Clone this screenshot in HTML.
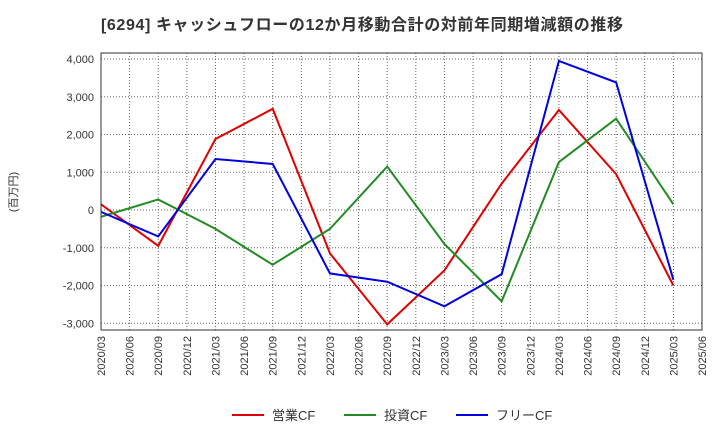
<!DOCTYPE html>
<html><head><meta charset="utf-8"><style>
body{margin:0;background:#fff;font-family:"Liberation Sans","Noto Sans CJK JP",sans-serif;}
</style></head><body>
<svg id="c" width="720" height="440" xmlns="http://www.w3.org/2000/svg">
<text x="101" y="30" font-size="16" font-weight="bold" fill="#333" textLength="522" lengthAdjust="spacing">[6294]  キャッシュフローの12か月移動合計の対前年同期増減額の推移</text>
<text transform="translate(17,192) rotate(-90)" font-size="11" fill="#333" text-anchor="middle">(百万円)</text>
<g id="grid"></g><g id="lines"></g>
<rect x="101" y="53" width="601" height="277" fill="none" stroke="#333" stroke-width="1"/>
<g>
<line x1="232" y1="415" x2="264" y2="415" stroke="#e00000" stroke-width="2"/><text x="272" y="420" font-size="13" fill="#333">営業CF</text>
<line x1="344" y1="415" x2="376" y2="415" stroke="#228b22" stroke-width="2"/><text x="384" y="420" font-size="13" fill="#333">投資CF</text>
<line x1="456" y1="415" x2="488" y2="415" stroke="#0000e0" stroke-width="2"/><text x="496" y="420" font-size="13" fill="#333">フリーCF</text>
</g>
</svg>
<script>
const xLabels=["2020/03","2020/06","2020/09","2020/12","2021/03","2021/06","2021/09","2021/12","2022/03","2022/06","2022/09","2022/12","2023/03","2023/06","2023/09","2023/12","2024/03","2024/06","2024/09","2024/12","2025/03","2025/06"];
const yTicks=[4000,3000,2000,1000,0,-1000,-2000,-3000];
const pointIdx=[0,2,4,6,8,10,12,14,16,18,20];
const operatingCF=[150,-950,1880,2680,-1150,-3030,-1600,700,2650,950,-2000];
const investingCF=[-180,280,-500,-1450,-500,1150,-900,-2420,1270,2420,150];
const freeCF=[-50,-700,1350,1220,-1680,-1900,-2550,-1700,3950,3380,-1850];
const NS="http://www.w3.org/2000/svg";
const X=i=>101+i*(601/21);
const Y=v=>210-v*0.03775;
const grid=document.getElementById('grid'),lines=document.getElementById('lines');
function mk(tag,attrs,parent){const e=document.createElementNS(NS,tag);for(const k in attrs)e.setAttribute(k,attrs[k]);parent.appendChild(e);return e;}
yTicks.forEach(v=>{
 const l=mk('line',{x1:101,x2:702,y1:Y(v),y2:Y(v),stroke:'#666','stroke-dasharray':'1,2','stroke-width':1},grid);
 
 
 const t=mk('text',{x:94,y:Y(v)+4,'font-size':11,'text-anchor':'end',fill:'#333'},grid);
 t.textContent=v.toLocaleString('en-US');
 
 
});
xLabels.forEach((s,i)=>{
 const l=mk('line',{x1:X(i),x2:X(i),y1:53,y2:330,stroke:'#666','stroke-dasharray':'1,2','stroke-width':1},grid);
 
 
 const t=mk('text',{transform:`translate(${X(i)+4},336) rotate(-90)`,'font-size':11,'text-anchor':'end',fill:'#333'},grid);
 t.textContent=s;
 
 
});
[[operatingCF,'#e00000','line-operating-cf'],[investingCF,'#228b22','line-investing-cf'],[freeCF,'#0000e0','line-free-cf']].forEach(([d,c,n])=>{
 const p=mk('polyline',{points:d.map((v,k)=>X(pointIdx[k])+','+Y(v)).join(' '),fill:'none',stroke:c,'stroke-width':2},lines);
 
 
});
</script>
</body></html>
